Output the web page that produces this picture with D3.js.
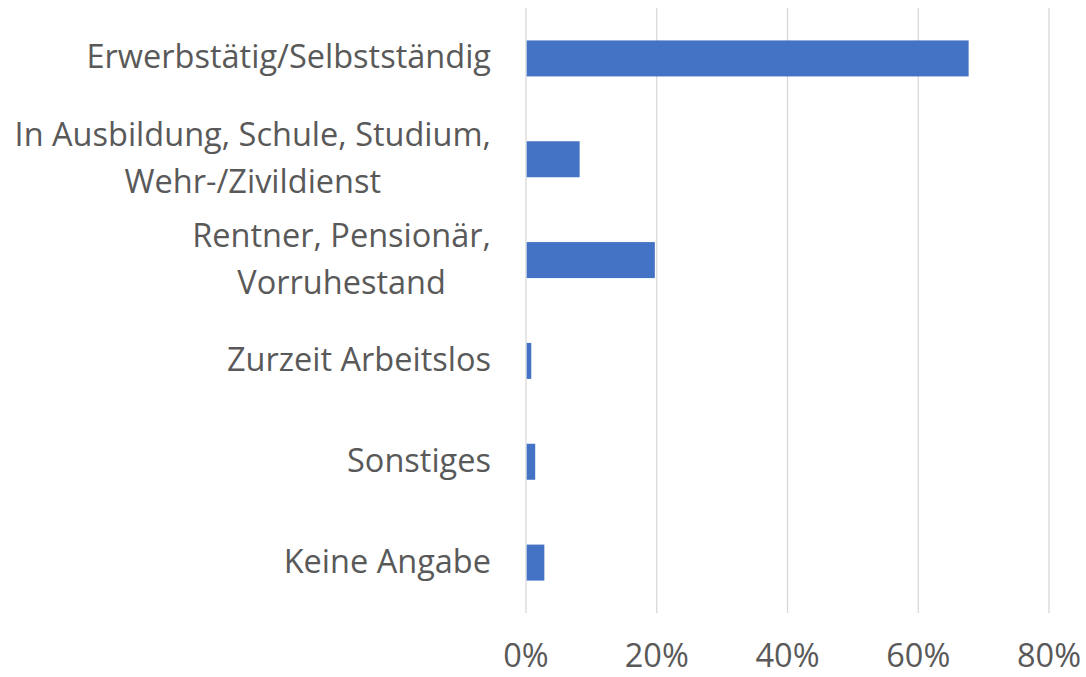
<!DOCTYPE html>
<html>
<head>
<meta charset="utf-8">
<script src="https://cdn.jsdelivr.net/npm/d3@7"></script>
<style>
  html, body { margin: 0; padding: 0; background: #fff; }
  svg { display: block; }
</style>
</head>
<body>
<svg id="chart" width="1086" height="677"></svg>
<script>
// data
const categories = [
    ['Erwerbstätig/Selbstständig'],
    ['In Ausbildung, Schule, Studium,', 'Wehr-/Zivildienst'],
    ['Rentner, Pensionär,', 'Vorruhestand'],
    ['Zurzeit Arbeitslos'],
    ['Sonstiges'],
    ['Keine Angabe']
];
const values = [67.6, 8.1, 19.6, 0.7, 1.3, 2.7];
const xTicks = [0, 20, 40, 60, 80];

const width = 1086, height = 677;
const margin = { top: 8, right: 37, bottom: 64, left: 526 };
const fontFamily = '"Open Sans", "Noto Sans", sans-serif';
const fontSize = 32.5;
const textColor = '#595959';

const svg = d3.select('#chart');

const x = d3.scaleLinear()
    .domain([0, 80])
    .range([margin.left, width - margin.right]);

const y = d3.scaleBand()
    .domain(d3.range(categories.length))
    .range([margin.top, height - margin.bottom])
    .paddingInner(0.643)
    .paddingOuter(0.3215);

// gridlines
svg.append('g')
    .selectAll('line')
    .data(xTicks)
    .join('line')
    .attr('x1', d => x(d))
    .attr('x2', d => x(d))
    .attr('y1', margin.top)
    .attr('y2', height - margin.bottom)
    .attr('stroke', '#d9d9d9')
    .attr('stroke-width', 1.3);

// bars
svg.append('g')
    .selectAll('rect')
    .data(values)
    .join('rect')
    .attr('x', x(0) + 0.7)
    .attr('y', (d, i) => y(i))
    .attr('width', d => x(d) - x(0))
    .attr('height', y.bandwidth())
    .attr('fill', '#4472c4');

// x tick labels (kept just inside the bottom edge)
svg.append('g')
    .selectAll('text')
    .data(xTicks)
    .join('text')
    .attr('x', d => x(d))
    .attr('y', 667)
    .attr('text-anchor', 'middle')
    .attr('font-family', fontFamily)
    .attr('font-size', fontSize)
    .attr('fill', textColor)
    .text(d => d + '%');

// category labels, multi-line centred within a right-aligned block
const labelRight = 491;
const lineHeight = 47;
const catG = svg.append('g');
categories.forEach((lines, i) => {
    const cy = y(i) + y.bandwidth() / 2;
    const g = catG.append('g');
    const texts = lines.map((t, j) => g.append('text')
        .attr('font-family', fontFamily)
        .attr('font-size', fontSize)
        .attr('fill', textColor)
        .attr('y', cy + 10 + (j - (lines.length - 1) / 2) * lineHeight)
        .text(t));
    const maxW = d3.max(texts, t => t.node().getComputedTextLength());
    texts.forEach(t => t.attr('x', labelRight - maxW / 2).attr('text-anchor', 'middle'));
});
</script>
</body>
</html>
